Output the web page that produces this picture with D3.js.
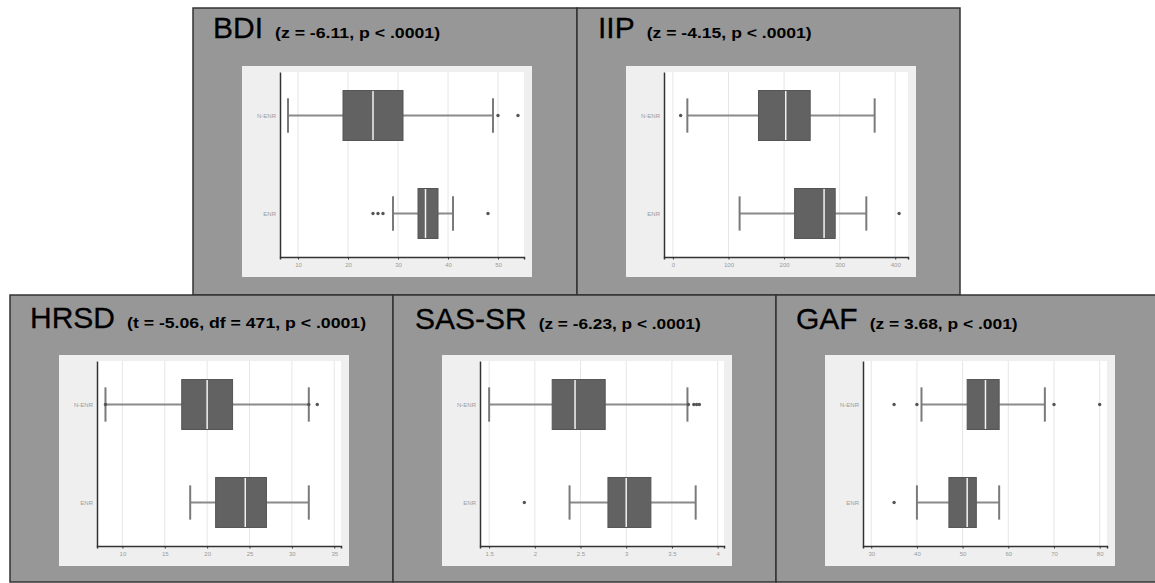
<!DOCTYPE html>
<html>
<head>
<meta charset="utf-8">
<script src="https://cdn.jsdelivr.net/npm/d3@7"></script>
<style>
  html, body { margin: 0; padding: 0; background: #ffffff; }
  svg { display: block; font-family: "Liberation Sans", Arial, sans-serif; }
</style>
</head>
<body>
<svg id="chart" width="1155" height="583"></svg>
<script>
// groups on the vertical axis (top to bottom)
const groups = ['N-ENR', 'ENR'];

// panel titles and test statistics
const titles = ['BDI', 'IIP', 'HRSD', 'SAS-SR', 'GAF'];
const subtitles = [
  '(z = -6.11, p < .0001)',
  '(z = -4.15, p < .0001)',
  '(t = -5.06, df = 471, p < .0001)',
  '(z = -6.23, p < .0001)',
  '(z = 3.68, p < .001)',
];

// box stats: [lower whisker, q1, median, q3, upper whisker]
const bdiNenr = [8, 19, 25, 31, 49];
const bdiEnr = [29, 34, 35.5, 38, 41];
const iipNenr = [26, 154, 203, 247, 363];
const iipEnr = [120, 219, 272, 292, 348];
const hrsdNenr = [8, 17, 20, 23, 32];
const hrsdEnr = [18, 21, 24.5, 27, 32];
const sasNenr = [1.5, 2.19, 2.44, 2.77, 3.67];
const sasEnr = [2.38, 2.8, 3.0, 3.27, 3.76];
const gafNenr = [41, 51, 55, 58, 68];
const gafEnr = [40, 47, 51, 53, 58];

// outliers
const bdiNenrOut = [50, 54];
const bdiEnrOut = [25, 26, 27, 48];
const iipNenrOut = [14];
const iipEnrOut = [407];
const hrsdNenrOut = [8, 32, 33];
const hrsdEnrOut = [];
const sasNenrOut = [3.68, 3.74, 3.77, 3.8];
const sasEnrOut = [1.885];
const gafNenrOut = [35, 40, 70, 80];
const gafEnrOut = [35];

// x axis ticks and domains
const bdiTicks = [10, 20, 30, 40, 50];
const iipTicks = [0, 100, 200, 300, 400];
const hrsdTicks = [10, 15, 20, 25, 30, 35];
const sasTicks = [1.5, 2, 2.5, 3, 3.5, 4];
const gafTicks = [30, 40, 50, 60, 70, 80];
const bdiDomain = [6.4, 55.2];
const iipDomain = [-16, 423];
const hrsdDomain = [7.0, 35.8];
const sasDomain = [1.4, 4.07];
const gafDomain = [28.2, 81.6];

const panels = [
  { stats: [bdiNenr, bdiEnr], outs: [bdiNenrOut, bdiEnrOut], ticks: bdiTicks, domain: bdiDomain },
  { stats: [iipNenr, iipEnr], outs: [iipNenrOut, iipEnrOut], ticks: iipTicks, domain: iipDomain },
  { stats: [hrsdNenr, hrsdEnr], outs: [hrsdNenrOut, hrsdEnrOut], ticks: hrsdTicks, domain: hrsdDomain },
  { stats: [sasNenr, sasEnr], outs: [sasNenrOut, sasEnrOut], ticks: sasTicks, domain: sasDomain },
  { stats: [gafNenr, gafEnr], outs: [gafNenrOut, gafEnrOut], ticks: gafTicks, domain: gafDomain },
];

// panel frames (subW = width of the stats text)
const frames = [
  { x: 193, y: 8, w: 384, h: 287, titleX: 20, titleY: 30, innerY: 58, subW: 165 },
  { x: 577, y: 8, w: 383, h: 287, titleX: 21, titleY: 30, innerY: 58, subW: 165 },
  { x: 10, y: 295, w: 383, h: 287, titleX: 20, titleY: 33, innerY: 60, subW: 239 },
  { x: 393, y: 295, w: 383, h: 287, titleX: 22, titleY: 34, innerY: 60, subW: 162 },
  { x: 776, y: 295, w: 383, h: 287, titleX: 20, titleY: 34, innerY: 60, subW: 148 },
];

const inner = { dx: 49, w: 290, h: 211 };
const margin = { top: 6, right: 8, bottom: 20, left: 38 };
const plotW = inner.w - margin.left - margin.right;
const plotH = inner.h - margin.top - margin.bottom;

const svg = d3.select('#chart');

panels.forEach((p, i) => {
  const f = frames[i];
  const g = svg.append('g').attr('transform', `translate(${f.x},${f.y})`);

  g.append('rect')
    .attr('width', f.w)
    .attr('height', f.h)
    .attr('fill', '#979797')
    .attr('stroke', '#333333')
    .attr('stroke-width', 1.5);

  // title + stats
  const title = g.append('text')
    .attr('x', f.titleX)
    .attr('y', f.titleY)
    .attr('fill', '#000000')
    .attr('font-size', '30px')
    .attr('stroke', '#000000')
    .attr('stroke-width', 0.3)
    .text(titles[i]);
  const tw = title.node().getComputedTextLength();

  g.append('text')
    .attr('x', f.titleX + tw + 12)
    .attr('y', f.titleY)
    .attr('fill', '#000000')
    .attr('font-size', '15.5px')
    .attr('font-weight', 'bold')
    .attr('textLength', f.subW)
    .attr('lengthAdjust', 'spacingAndGlyphs')
    .text(subtitles[i]);

  // plot background
  const ig = g.append('g').attr('transform', `translate(${inner.dx},${f.innerY})`);
  ig.append('rect')
    .attr('width', inner.w)
    .attr('height', inner.h)
    .attr('fill', '#efefef');

  const pg = ig.append('g').attr('transform', `translate(${margin.left},${margin.top})`);
  pg.append('rect')
    .attr('width', plotW)
    .attr('height', plotH)
    .attr('fill', '#ffffff');

  const x = d3.scaleLinear().domain(p.domain).range([0, plotW]);
  const y = d3.scalePoint().domain(groups).range([0, plotH]).padding(0.444);
  const boxH = y.step() * 0.51;
  const capH = y.step() * 0.35;

  // grid
  pg.selectAll('.grid')
    .data(p.ticks)
    .enter()
    .append('line')
    .attr('x1', (d) => x(d))
    .attr('x2', (d) => x(d))
    .attr('y1', 0)
    .attr('y2', plotH)
    .attr('stroke', '#e6e6e6')
    .attr('stroke-width', 1);

  // boxes
  groups.forEach((grp, k) => {
    const s = p.stats[k];
    const cy = y(grp);
    const bg = pg.append('g');

    bg.append('line')
      .attr('x1', x(s[0])).attr('x2', x(s[1]))
      .attr('y1', cy).attr('y2', cy)
      .attr('stroke', '#8a8a8a').attr('stroke-width', 2);
    bg.append('line')
      .attr('x1', x(s[3])).attr('x2', x(s[4]))
      .attr('y1', cy).attr('y2', cy)
      .attr('stroke', '#8a8a8a').attr('stroke-width', 2);

    [s[0], s[4]].forEach((v) => {
      bg.append('line')
        .attr('x1', x(v)).attr('x2', x(v))
        .attr('y1', cy - capH / 2).attr('y2', cy + capH / 2)
        .attr('stroke', '#7a7a7a').attr('stroke-width', 2);
    });

    bg.append('rect')
      .attr('x', x(s[1]))
      .attr('y', cy - boxH / 2)
      .attr('width', x(s[3]) - x(s[1]))
      .attr('height', boxH)
      .attr('fill', '#626262')
      .attr('stroke', '#555555')
      .attr('stroke-width', 1);

    bg.append('line')
      .attr('x1', x(s[2])).attr('x2', x(s[2]))
      .attr('y1', cy - boxH / 2 + 0.5).attr('y2', cy + boxH / 2 - 0.5)
      .attr('stroke', '#f2f2f2').attr('stroke-width', 1.5);

    bg.selectAll('.out')
      .data(p.outs[k])
      .enter()
      .append('circle')
      .attr('cx', (d) => x(d))
      .attr('cy', cy)
      .attr('r', 1.7)
      .attr('fill', '#555555');
  });

  // axes
  const xAxis = pg.append('g')
    .attr('transform', `translate(0,${plotH})`)
    .call(d3.axisBottom(x).tickValues(p.ticks).tickSize(2.5).tickPadding(3).tickFormat(d3.format('~g')));
  xAxis.select('.domain').attr('stroke', '#333333').attr('stroke-width', 1.5);
  xAxis.selectAll('.tick line').attr('stroke', '#333333');
  xAxis.selectAll('text')
    .attr('font-size', '6px')
    .attr('fill', '#9a9a9a')
    .attr('font-family', '"Liberation Sans", Arial, sans-serif');

  const yAxis = pg.append('g')
    .call(d3.axisLeft(y).tickSize(0).tickPadding(4));
  yAxis.select('.domain').attr('stroke', '#333333').attr('stroke-width', 1.5);
  yAxis.selectAll('text')
    .attr('font-size', '6px')
    .attr('fill', '#9a9a9a')
    .attr('font-family', '"Liberation Sans", Arial, sans-serif');
});
</script>
</body>
</html>
